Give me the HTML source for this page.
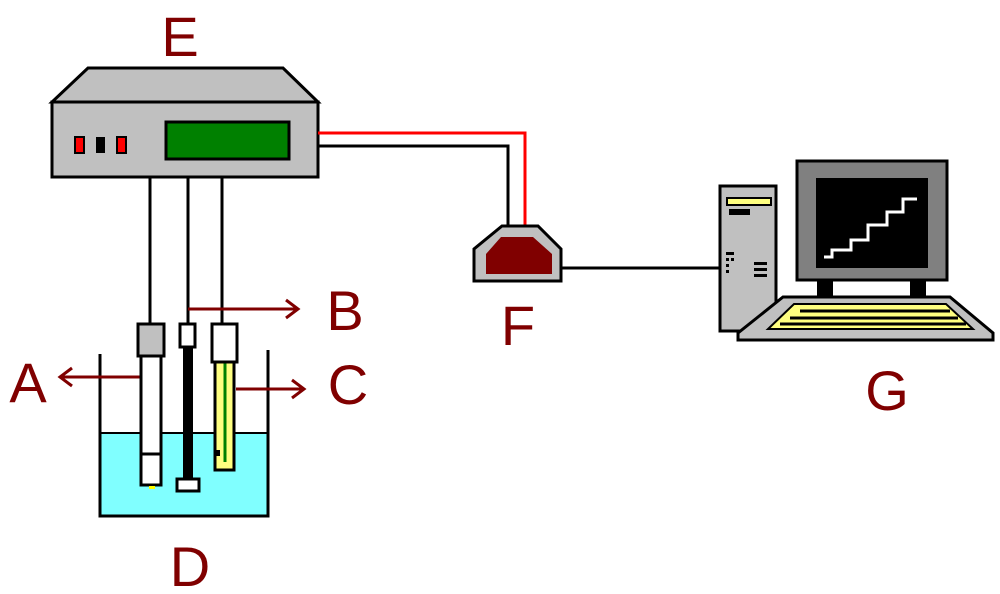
<!DOCTYPE html>
<html><head><style>body{margin:0;background:#fff}svg{display:block}text{font-family:"Liberation Sans",sans-serif;font-size:56px;fill:#800000}</style></head><body>
<svg width="1000" height="594" viewBox="0 0 1000 594" xmlns="http://www.w3.org/2000/svg">
<!-- labels -->
<text x="180" y="56" text-anchor="middle">E</text>
<text x="28" y="402" text-anchor="middle">A</text>
<text x="345" y="330" text-anchor="middle">B</text>
<text x="348" y="404" text-anchor="middle">C</text>
<text x="190" y="586" text-anchor="middle">D</text>
<text x="518" y="345" text-anchor="middle">F</text>
<text x="887" y="410" text-anchor="middle">G</text>
<!-- E device -->
<polygon points="88,68 283,68 318,102 52,102" fill="#c0c0c0" stroke="#000" stroke-width="3"/>
<rect x="52" y="102" width="266" height="75" fill="#c0c0c0" stroke="#000" stroke-width="3"/>
<rect x="75" y="137" width="9" height="16" fill="#f00" stroke="#000" stroke-width="2"/>
<rect x="96" y="137" width="9" height="16" fill="#000"/>
<rect x="117" y="137" width="9" height="16" fill="#f00" stroke="#000" stroke-width="2"/>
<rect x="166" y="122" width="123" height="37" fill="#008000" stroke="#000" stroke-width="3"/>
<!-- cables -->
<polyline points="318,133 525,133 525,226" fill="none" stroke="#f00" stroke-width="3"/>
<polyline points="318,146 508,146 508,226" fill="none" stroke="#000" stroke-width="3"/>
<line x1="150" y1="177" x2="150" y2="323" stroke="#000" stroke-width="3"/>
<line x1="188" y1="177" x2="188" y2="323" stroke="#000" stroke-width="3"/>
<line x1="222" y1="177" x2="222" y2="323" stroke="#000" stroke-width="3"/>
<!-- beaker -->
<rect x="100" y="433" width="168" height="83" fill="#80ffff"/>
<polyline points="100,354 100,516 268,516 268,350" fill="none" stroke="#000" stroke-width="3"/>
<line x1="100" y1="433" x2="268" y2="433" stroke="#000" stroke-width="2"/>
<!-- arrows -->
<g stroke="#800000" stroke-width="3" fill="none">
<line x1="140" y1="377" x2="60" y2="377"/><polyline points="72,368 60,377 72,386"/>
<line x1="188" y1="309" x2="298" y2="309"/><polyline points="286,300 298,309 286,318"/>
<line x1="236" y1="389" x2="304" y2="389"/><polyline points="292,380 304,389 292,398"/>
</g>
<!-- probe A -->
<rect x="141" y="356" width="20" height="129" fill="#fff" stroke="#000" stroke-width="3"/>
<line x1="141" y1="454" x2="161" y2="454" stroke="#000" stroke-width="3"/>
<rect x="138" y="324" width="26" height="32" fill="#c0c0c0" stroke="#000" stroke-width="3"/>
<rect x="149" y="486" width="6" height="3" fill="#ff0"/>
<!-- probe B -->
<rect x="183" y="347" width="10" height="132" fill="#000"/>
<rect x="180" y="324" width="15" height="23" fill="#fff" stroke="#000" stroke-width="3"/>
<rect x="177" y="479" width="22" height="12" fill="#fff" stroke="#000" stroke-width="3"/>
<!-- probe C -->
<rect x="215" y="362" width="19" height="108" fill="#ffff80" stroke="#000" stroke-width="3"/>
<line x1="225" y1="362" x2="225" y2="462" stroke="#008000" stroke-width="3"/>
<rect x="216" y="450" width="4" height="6" fill="#000"/>
<rect x="212" y="324" width="25" height="38" fill="#fff" stroke="#000" stroke-width="3"/>
<!-- F -->
<polygon points="502,226 538,226 561,249 561,281 474,281 474,249" fill="#c0c0c0" stroke="#000" stroke-width="3"/>
<polygon points="501,237 533,237 552,254 552,274 486,274 486,254" fill="#800000"/>
<line x1="561" y1="268" x2="720" y2="268" stroke="#000" stroke-width="3"/>
<!-- tower -->
<rect x="720" y="186" width="56" height="145" fill="#c0c0c0" stroke="#000" stroke-width="3"/>
<rect x="727" y="198" width="44" height="7" fill="#ffff80" stroke="#000" stroke-width="2"/>
<rect x="729" y="209" width="21" height="6" fill="#000"/>
<rect x="726" y="252" width="8" height="3" fill="#000"/><rect x="726" y="258" width="3" height="3" fill="#000"/><rect x="731" y="258" width="3" height="3" fill="#000"/><rect x="726" y="264" width="3" height="3" fill="#000"/><rect x="726" y="270" width="3" height="3" fill="#000"/>
<rect x="754" y="262" width="13" height="3" fill="#000"/><rect x="754" y="268" width="13" height="3" fill="#000"/><rect x="754" y="274" width="13" height="3" fill="#000"/>
<!-- monitor -->
<rect x="797" y="161" width="150" height="119" fill="#808080" stroke="#000" stroke-width="3"/>
<rect x="816" y="178" width="112" height="90" fill="#000"/>
<polyline points="824,257 832,257 832,250 851,250 851,240 868,240 868,225 887,225 887,212 903,212 903,199 917,199" fill="none" stroke="#fff" stroke-width="3"/>
<rect x="817" y="280" width="16" height="17" fill="#000"/>
<rect x="910" y="280" width="16" height="17" fill="#000"/>
<!-- keyboard -->
<polygon points="783,297 950,297 993,333 993,340 738,340 738,333" fill="#c0c0c0" stroke="#000" stroke-width="3"/>
<polygon points="794,304 946,304 973,329 768,329" fill="#ffff80" stroke="#000" stroke-width="2"/>
<line x1="800" y1="311" x2="950" y2="311" stroke="#000" stroke-width="3"/>
<line x1="790" y1="318" x2="958" y2="318" stroke="#000" stroke-width="3"/>
<line x1="780" y1="324" x2="966" y2="324" stroke="#000" stroke-width="3"/>
</svg>
</body></html>
